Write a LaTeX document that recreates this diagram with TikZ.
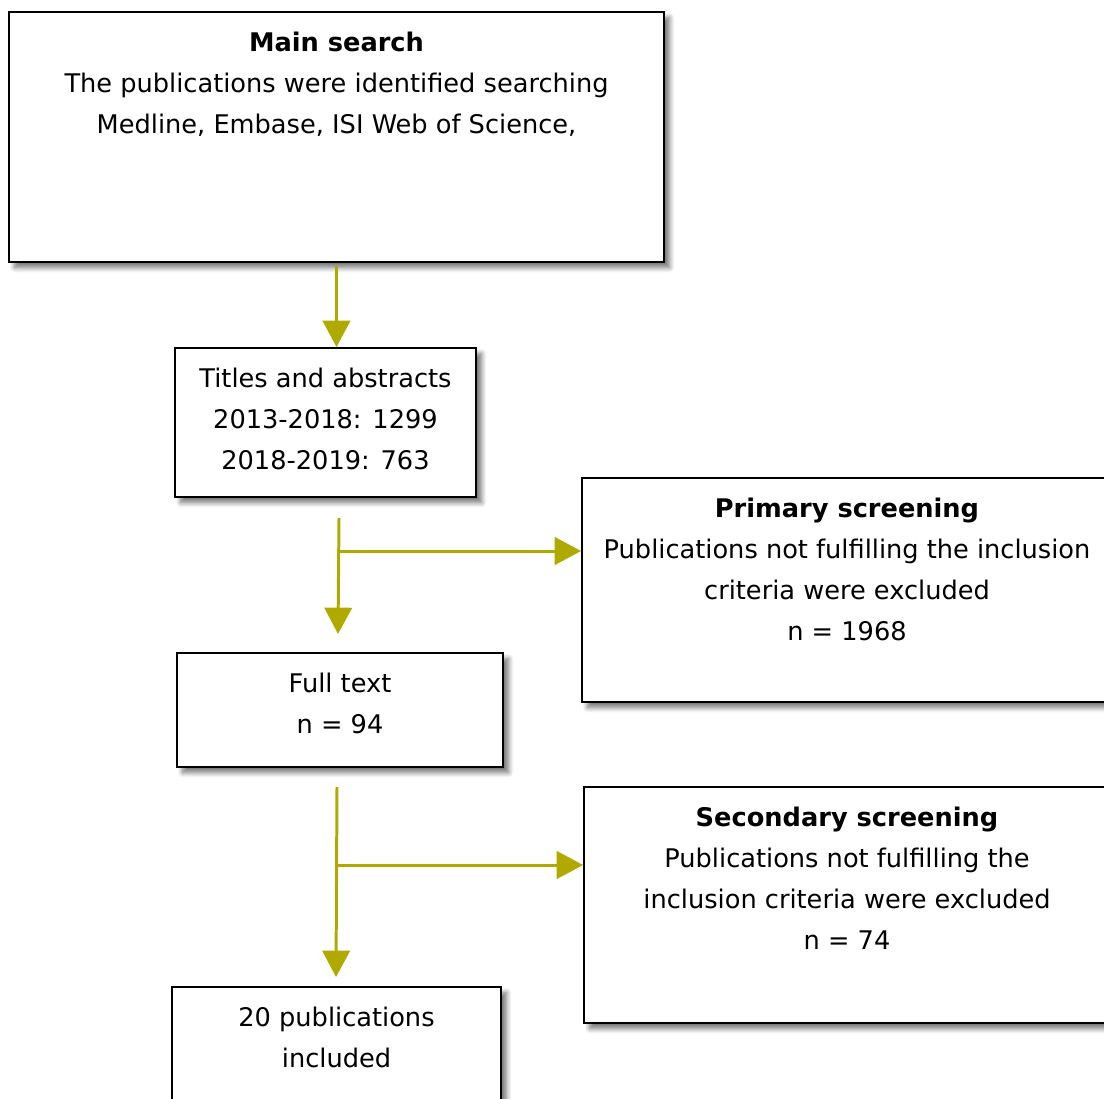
\documentclass[tikz,border=0pt]{standalone}
\usepackage{fontspec}
\setmainfont{DejaVu Sans}
\usetikzlibrary{positioning,arrows.meta,shadows.blur}
\definecolor{flowolive}{RGB}{176,170,0}
\tikzset{
  box/.style={draw, line width=1.1pt, fill=white, rectangle,
    blur shadow={shadow xshift=3.2pt, shadow yshift=-3.2pt, shadow blur radius=2.8pt,
      shadow blur steps=8, shadow opacity=55}},
  txt/.style={align=center, inner sep=0pt, font=\fontsize{14.6}{23.3}\selectfont},
  flow/.style={draw=flowolive, line width=1.7pt,
    -{Triangle[width=15.6pt,length=15pt,fill=flowolive]}}
}
\begin{document}
\begin{tikzpicture}[x=0.02cm, y=-0.02cm]
        \useasboundingbox (0, 0) rectangle (1104, 1098);

        \node[box, minimum width=13.1cm, minimum height=5cm] (main) at (336.5, 137) {};
        \node[box, minimum width=6.02cm, minimum height=2.98cm] (titles) at (325.5, 422.5) {};
        \node[box, minimum width=10.6cm, minimum height=4.48cm] (prim) at (847, 590) {};
        \node[box, minimum width=6.52cm, minimum height=2.28cm] (full) at (340, 710) {};
        \node[box, minimum width=10.52cm, minimum height=4.72cm] (sec) at (847, 905) {};
        \node[box, minimum width=6.58cm, minimum height=2.5cm] (incl) at (336.5, 1049.5) {};

        \node[txt, below=0.41cm of main.north] (maintxt) {\textbf{Main search}\\The publications were identified searching\\Medline, Embase, ISI Web of Science,};
        \node[txt, below=0.41cm of titles.north] (titlestxt) {Titles and abstracts\\2013-2018: 1299\\2018-2019: 763};
        \node[txt, below=0.41cm of prim.north] (primtxt) {\textbf{Primary screening}\\Publications not fulfilling the inclusion\\criteria were excluded\\n = 1968};
        \node[txt, below=0.41cm of full.north] (fulltxt) {Full text\\n = 94};
        \node[txt, below=0.41cm of sec.north] (sectxt) {\textbf{Secondary screening}\\Publications not fulfilling the\\inclusion criteria were excluded\\n = 74};
        \node[txt, below=0.41cm of incl.north] (incltxt) {20 publications\\included};

        \coordinate (s1) at (339, 518);
        \coordinate (j1) at (339, 551);
        \coordinate (e1) at (338, 634);
        \coordinate (s2) at (337, 787);
        \coordinate (j2) at (337, 865);
        \coordinate (e2) at (336, 977);

        \draw[flow] ([yshift=-0.06cm]main.south) -- (main.south |- titles.north);
        \draw[flow] (s1) -- (e1);
        \draw[flow] (j1) -- (j1 -| prim.west);
        \draw[flow] (s2) -- (e2);
        \draw[flow] (j2) -- (j2 -| sec.west);

    \end{tikzpicture}
\end{document}
